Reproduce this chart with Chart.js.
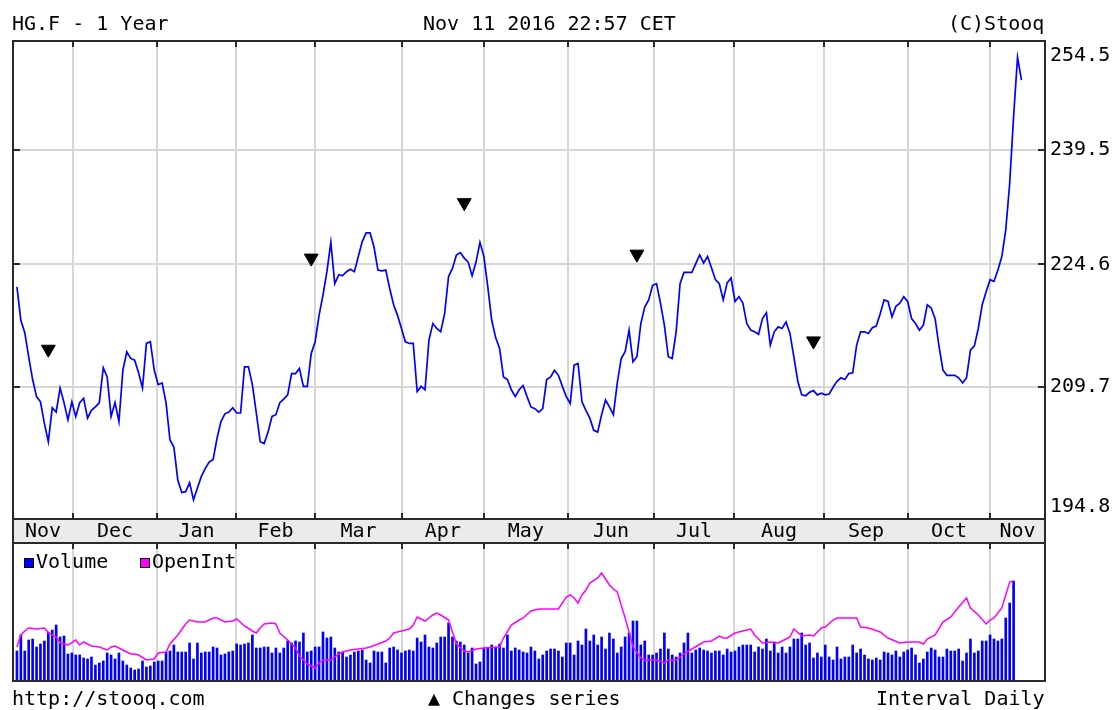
<!DOCTYPE html>
<html>
<head>
<meta charset="utf-8">
<title>HG.F - 1 Year</title>
<script src="https://cdn.jsdelivr.net/npm/chart.js@4.4.1/dist/chart.umd.min.js"></script>
<style>
  body { margin: 0; background: #fff; }
  #wrap { position: relative; width: 1116px; height: 710px; font-family: "DejaVu Sans Mono", monospace; font-size: 20px; color: #000; }
  canvas { position: absolute; left: 0; top: 0; }
  .txt { position: absolute; line-height: 24px; white-space: pre; }
</style>
</head>
<body>
<div id="wrap">
  <canvas id="priceChart" width="1116" height="710"></canvas>
  <canvas id="volumeChart" width="1116" height="710"></canvas>
  <div class="txt" style="left:12px; top:11px;">HG.F - 1 Year</div>
  <div class="txt" style="left:423px; top:11px;">Nov 11 2016 22:57 CET</div>
  <div class="txt" style="left:948px; top:11px;">(C)Stooq</div>
  <div class="txt" style="left:12px; top:686px;">http://stooq.com</div>
  <div class="txt" style="left:428px; top:686px;">▲ Changes series</div>
  <div class="txt" style="left:876px; top:686px;">Interval Daily</div>
</div>
<script>
// trading day index 0 = mid Nov 2015, last = Nov 11 2016
const monthLabels = ['Nov', 'Dec', 'Jan', 'Feb', 'Mar', 'Apr', 'May', 'Jun', 'Jul', 'Aug', 'Sep', 'Oct', 'Nov'];
const monthStartDay = [14.3, 35.7, 55.8, 76, 98.1, 119, 140.4, 162.4, 182.7, 205.7, 227.1, 248];
const priceTicks = [194.8, 209.7, 224.6, 239.5, 254.5];

const closePrice = [
  221.8, 217.7, 216.2, 213.3, 210.6, 208.6, 208.0, 205.5, 203.4, 207.3,
  206.8, 209.6, 207.9, 205.9, 208.0, 206.3, 207.9, 208.4, 206.1, 207.0,
  207.4, 207.9, 212.0, 210.9, 206.3, 207.9, 205.7, 211.7, 213.9, 213.1,
  212.9, 211.4, 209.6, 214.9, 215.1, 211.7, 210.0, 210.2, 207.9, 203.6,
  202.8, 199.1, 197.7, 197.8, 198.8, 196.9, 198.2, 199.5, 200.4, 201.1,
  201.4, 203.8, 205.7, 206.6, 206.8, 207.3, 206.7, 206.7, 212.1, 212.1,
  210.0, 206.7, 203.4, 203.2, 204.5, 206.3, 206.5, 207.9, 208.3, 208.8,
  211.3, 211.3, 211.9, 209.8, 209.8, 213.7, 215.1, 218.3, 220.8, 223.7,
  227.4, 222.2, 223.3, 223.2, 223.7, 224.0, 223.7, 225.6, 227.5, 228.6,
  228.6, 226.8, 223.9, 223.8, 223.9, 221.6, 219.6, 218.3, 216.7, 215.1,
  214.9, 214.9, 209.2, 209.8, 209.4, 215.3, 217.3, 216.7, 216.3, 218.5,
  223.1, 224.1, 225.8, 226.1, 225.4, 224.9, 223.2, 224.9, 227.4, 225.6,
  221.8, 217.7, 215.6, 214.3, 210.9, 210.6, 209.4, 208.6, 209.4, 209.9,
  208.6, 207.4, 207.2, 206.8, 207.2, 210.6, 210.9, 211.7, 211.1, 209.8,
  208.6, 207.8, 212.3, 212.5, 208.0, 207.0, 206.1, 204.7, 204.5, 206.5,
  208.2, 207.4, 206.5, 210.2, 213.1, 213.9, 216.5, 212.7, 213.3, 217.3,
  219.3, 220.2, 222.0, 222.2, 219.8, 217.1, 213.3, 213.1, 216.3, 222.2,
  223.6, 223.6, 223.6, 224.7, 225.8, 224.8, 225.6, 224.2, 222.7, 222.2,
  220.2, 222.3, 222.9, 220.0, 220.6, 219.8, 217.3, 216.5, 216.3, 216.0,
  217.9, 218.6, 214.7, 216.3, 216.9, 216.7, 217.5, 216.1, 213.3, 210.4,
  208.8, 208.7, 209.1, 209.3, 208.8, 209.0, 208.8, 208.9, 209.7, 210.4,
  210.8, 210.6, 211.3, 211.4, 214.7, 216.3, 216.3, 216.1, 216.8, 217.0,
  218.5, 220.2, 220.0, 218.1, 219.4, 219.8, 220.6, 220.0, 217.9, 217.3,
  216.5, 217.1, 219.6, 219.2, 217.9, 214.5, 211.7, 211.1, 211.1, 211.1,
  210.8, 210.2, 210.8, 214.1, 214.6, 216.7, 219.6, 221.2, 222.7, 222.5,
  223.9, 225.6, 229.0, 235.0, 244.0, 252.2, 249.0
];

// contract changes (marked with a triangle)
const changeDay = [8, 75, 114, 158, 203];
const changeValue = [214.2, 225.4, 232.5, 225.9, 215.2];

// volume, thousands of contracts
const volume = [
  30, 46, 30, 41, 42, 34, 37, 40, 49, 51,
  56, 44, 45, 27, 28, 26, 26, 23, 22, 24,
  16, 18, 20, 28, 26, 22, 28, 20, 16, 13,
  11, 12, 20, 14, 15, 19, 20, 20, 29, 30,
  36, 29, 29, 29, 38, 22, 38, 28, 29, 29,
  34, 33, 26, 27, 29, 30, 37, 36, 37, 38,
  46, 33, 33, 34, 34, 28, 33, 28, 33, 40,
  38, 40, 39, 48, 29, 30, 34, 34, 49, 43,
  44, 33, 29, 29, 24, 26, 29, 30, 31, 21,
  18, 30, 29, 29, 18, 33, 34, 31, 28, 30,
  31, 30, 43, 39, 46, 34, 33, 38, 44, 44,
  58, 44, 40, 39, 36, 28, 33, 17, 19, 33,
  33, 36, 34, 37, 33, 46, 30, 33, 31, 29,
  28, 34, 30, 22, 26, 30, 32, 32, 30, 24,
  38, 38, 26, 40, 36, 52, 40, 46, 36, 44,
  32, 48, 42, 28, 34, 44, 48, 60, 60, 36,
  40, 26, 26, 28, 32, 48, 32, 26, 24, 28,
  38, 48, 28, 31, 33, 31, 30, 28, 30, 30,
  26, 32, 29, 30, 34, 36, 36, 36, 29, 34,
  32, 42, 30, 39, 28, 34, 28, 34, 42, 42,
  48, 36, 38, 23, 28, 24, 36, 24, 21, 34,
  22, 24, 24, 36, 28, 32, 26, 22, 21, 23,
  21, 29, 28, 26, 30, 24, 29, 31, 33, 26,
  18, 22, 29, 33, 31, 24, 24, 32, 30, 30,
  32, 20, 28, 42, 28, 30, 40, 40, 46, 42,
  40, 42, 63, 78, 100
];

// open interest (same panel, relative units)
const oiDay = [
  0, 1, 2, 3, 5, 7, 8, 10, 11, 13, 15, 16, 17, 19, 21, 23, 24, 25, 27, 29,
  30, 31, 33, 35, 36, 38, 39, 41, 43, 44, 46, 48, 50, 51, 53, 55, 56, 58, 60, 61,
  62, 63, 65, 66, 67, 69, 71, 72, 74, 76, 77, 78, 80, 82, 83, 85, 87, 89, 90, 92,
  94, 95, 96, 98, 100, 101, 102, 104, 106, 107, 108, 110, 111, 112, 114, 115, 117, 119, 123, 124,
  126, 128, 129, 131, 133, 138, 140, 141, 142, 143, 144, 145, 146, 148, 149, 150, 151, 152, 153, 154,
  155, 156, 157, 159, 160, 163, 165, 166, 168, 170, 172, 175, 177, 179, 180, 181, 183, 186, 187, 188,
  190, 192, 194, 196, 197, 198, 200, 202, 203, 205, 206, 208, 209, 214, 215, 217, 220, 222, 225, 227,
  230, 231, 232, 234, 236, 238, 240, 242, 243, 245, 247, 248, 249, 251, 252, 253, 254
];
const oiValue = [
  34, 46, 50, 53, 52, 53, 48, 44, 38, 36, 41, 36, 39, 35, 34, 31, 34, 35, 31, 27,
  27, 26, 21, 22, 28, 29, 37, 46, 57, 61, 59, 59, 63, 63, 59, 60, 62, 55, 50, 48,
  53, 57, 58, 57, 48, 41, 33, 25, 17, 13, 18, 21, 21, 27, 29, 31, 32, 33, 34, 37,
  40, 43, 48, 50, 52, 56, 64, 60, 66, 68, 66, 61, 49, 37, 30, 29, 32, 33, 34, 43,
  56, 61, 63, 70, 72, 72, 84, 86, 83, 78, 86, 91, 98, 103, 108, 102, 96, 92, 89, 76,
  63, 49, 34, 23, 21, 21, 18, 21, 21, 27, 32, 39, 40, 45, 43, 43, 48, 51, 52, 46,
  38, 39, 38, 42, 44, 52, 45, 46, 45, 53, 54, 61, 63, 63, 54, 53, 49, 43, 38, 39,
  39, 37, 42, 46, 59, 64, 74, 83, 73, 66, 57, 61, 63, 73, 86, 99, 100
];

const FONT = '20px "DejaVu Sans Mono", monospace';
const GRID = '#d6d6d6';
const FRAME = '#2a2a2a';

function monthGridAxis(extraHeight) {
  return {
    type: 'linear',
    min: -1,
    max: 262,
    offset: false,
    ticks: { display: false },
    border: { display: false },
    grid: { color: GRID, lineWidth: 2, drawTicks: false, offset: false },
    afterBuildTicks: s => { s.ticks = monthStartDay.map(v => ({ value: v })); },
    afterFit: s => { s.height = extraHeight; }
  };
}

const priceFrame = {
  id: 'priceFrame',
  afterDraw(chart) {
    const { ctx, chartArea: a, scales } = chart;
    const xs = scales.x, ys = scales.y;
    ctx.save();
    // month band under the plot
    ctx.fillStyle = '#ebebeb';
    ctx.fillRect(a.left, a.bottom, a.right - a.left, 24);
    ctx.strokeStyle = FRAME;
    ctx.lineWidth = 2;
    ctx.strokeRect(a.left, a.top, a.right - a.left, a.bottom - a.top);
    ctx.strokeRect(a.left, a.bottom, a.right - a.left, 24);
    // inward ticks
    ctx.beginPath();
    monthStartDay.forEach(d => {
      const x = Math.round(xs.getPixelForValue(d));
      ctx.moveTo(x, a.top); ctx.lineTo(x, a.top + 6);
      ctx.moveTo(x, a.bottom); ctx.lineTo(x, a.bottom - 6);
    });
    priceTicks.forEach(v => {
      const y = Math.round(ys.getPixelForValue(v));
      ctx.moveTo(a.left, y); ctx.lineTo(a.left + 7, y);
      ctx.moveTo(a.right, y); ctx.lineTo(a.right - 7, y);
    });
    ctx.stroke();
    // labels
    ctx.fillStyle = '#000';
    ctx.font = FONT;
    ctx.textBaseline = 'middle';
    ctx.textAlign = 'left';
    priceTicks.forEach(v => {
      let y = ys.getPixelForValue(v);
      y = Math.min(Math.max(y, a.top + 15), a.bottom - 12);
      ctx.fillText(v.toFixed(1), a.right + 5, y);
    });
    ctx.textAlign = 'center';
    const bounds = [xs.min, ...monthStartDay, xs.max];
    monthLabels.forEach((m, i) => {
      const x = (xs.getPixelForValue(bounds[i]) + xs.getPixelForValue(bounds[i + 1])) / 2;
      ctx.fillText(m, x, a.bottom + 13);
    });
    ctx.restore();
  }
};

const volumeFrame = {
  id: 'volumeFrame',
  afterDraw(chart) {
    const { ctx, chartArea: a, scales } = chart;
    ctx.save();
    ctx.strokeStyle = FRAME;
    ctx.lineWidth = 2;
    ctx.strokeRect(a.left, a.top, a.right - a.left, a.bottom - a.top);
    ctx.beginPath();
    monthStartDay.forEach(d => {
      const x = Math.round(scales.x.getPixelForValue(d));
      ctx.moveTo(x, a.top); ctx.lineTo(x, a.top + 6);
    });
    ctx.stroke();
    // legend
    ctx.font = FONT;
    ctx.textBaseline = 'middle';
    ctx.textAlign = 'left';
    ctx.lineWidth = 1;
    [['Volume', '#0000ff', 24], ['OpenInt', '#ff00ff', 140]].forEach(([name, col, lx]) => {
      ctx.fillStyle = col;
      ctx.fillRect(lx, a.top + 15, 10, 10);
      ctx.strokeStyle = '#000';
      ctx.strokeRect(lx + 0.5, a.top + 15.5, 9, 9);
      ctx.fillStyle = '#000';
      ctx.fillText(name, lx + 12, a.top + 20);
    });
    ctx.restore();
  }
};

new Chart(document.getElementById('priceChart'), {
  type: 'line',
  data: {
    datasets: [
      {
        label: 'HG.F',
        data: closePrice.map((v, i) => ({ x: i, y: v })),
        borderColor: '#0000ff',
        borderWidth: 1.7,
        pointRadius: 0,
        tension: 0
      },
      {
        label: 'Changes series',
        data: changeDay.map((d, i) => ({ x: d, y: changeValue[i] })),
        showLine: false,
        pointStyle: 'triangle',
        pointRotation: 180,
        pointRadius: 8,
        pointBackgroundColor: '#000',
        pointBorderColor: '#000',
        pointBorderWidth: 1
      }
    ]
  },
  options: {
    responsive: false,
    animation: false,
    devicePixelRatio: 1,
    layout: { padding: { left: 13, top: 41, right: 0, bottom: 167 } },
    plugins: { legend: { display: false }, tooltip: { enabled: false } },
    scales: {
      x: monthGridAxis(24),
      y: {
        type: 'logarithmic',
        position: 'right',
        min: 194.8,
        max: 254.5,
        ticks: { display: false },
        border: { display: false },
        grid: { color: GRID, lineWidth: 2, drawTicks: false },
        afterBuildTicks: s => { s.ticks = priceTicks.map(v => ({ value: v })); },
        afterFit: s => { s.width = 71; }
      }
    }
  },
  plugins: [priceFrame]
});

new Chart(document.getElementById('volumeChart'), {
  type: 'bar',
  data: {
    datasets: [
      {
        type: 'line',
        label: 'OpenInt',
        data: oiDay.map((d, i) => ({ x: d, y: oiValue[i] })),
        borderColor: '#ff00ff',
        borderWidth: 1.5,
        pointRadius: 0,
        tension: 0,
        yAxisID: 'oi'
      },
      {
        label: 'Volume',
        data: volume.map((v, i) => ({ x: i, y: v })),
        backgroundColor: '#0000ff',
        barThickness: 2,
        grouped: false,
        yAxisID: 'y'
      }
    ]
  },
  options: {
    responsive: false,
    animation: false,
    devicePixelRatio: 1,
    layout: { padding: { left: 13, top: 543, right: 71, bottom: 29 } },
    plugins: { legend: { display: false }, tooltip: { enabled: false } },
    scales: {
      x: monthGridAxis(0),
      y: { display: false, min: 0, max: 138 },
      oi: { display: false, min: 0, max: 138 }
    }
  },
  plugins: [volumeFrame]
});
</script>
</body>
</html>
